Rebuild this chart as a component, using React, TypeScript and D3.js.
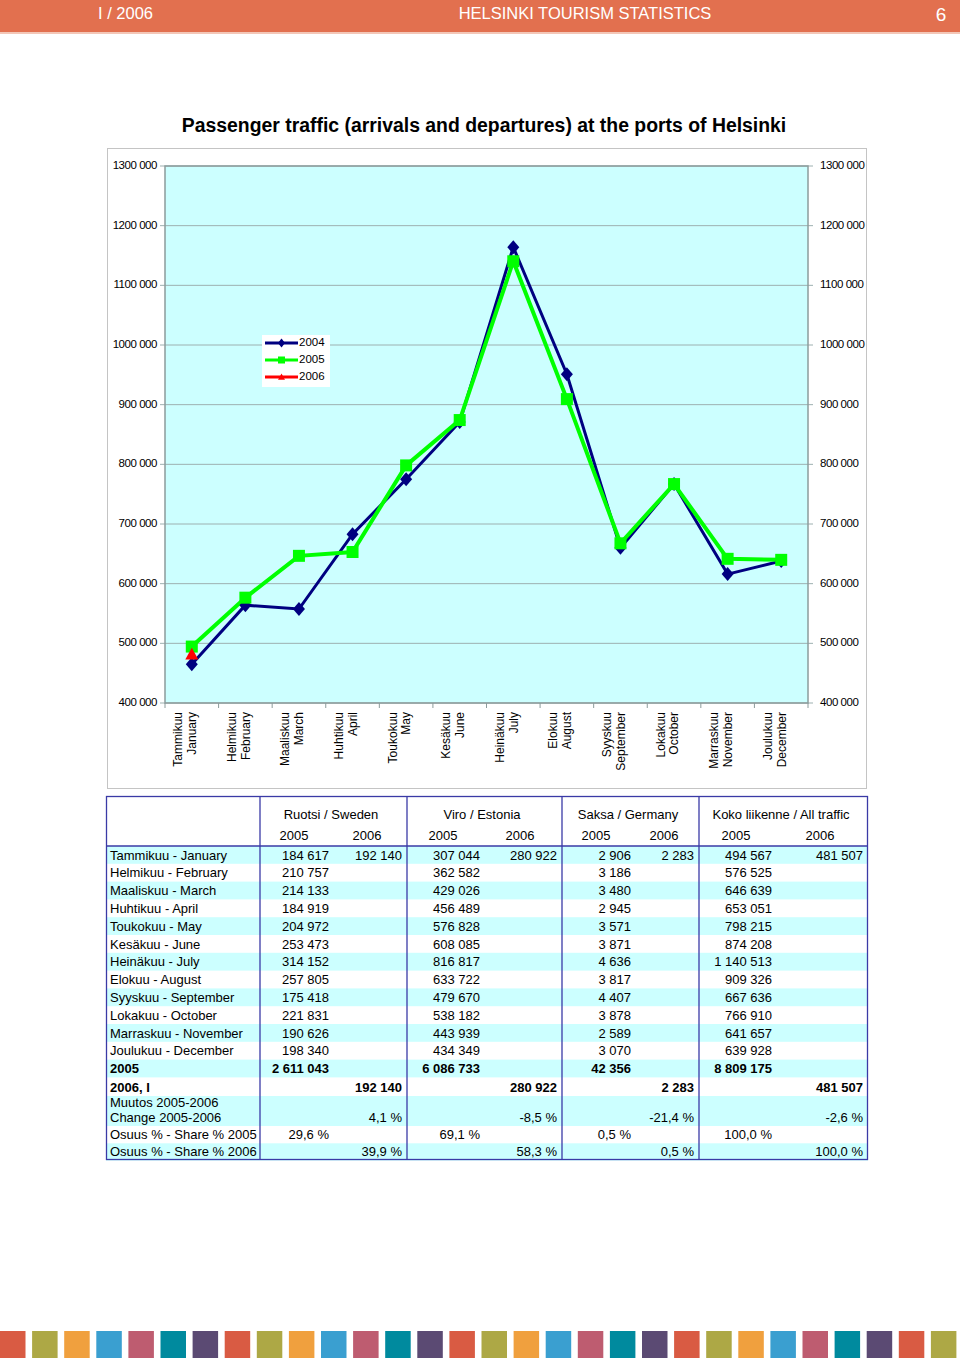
import React from "react";
import * as d3 from "d3";

const monthsFi = ["Tammikuu","Helmikuu","Maaliskuu","Huhtikuu","Toukokuu","Kesäkuu","Heinäkuu","Elokuu","Syyskuu","Lokakuu","Marraskuu","Joulukuu"];
const monthsEn = ["January","February","March","April","May","June","July","August","September","October","November","December"];
const yTicks = [400000,500000,600000,700000,800000,900000,1000000,1100000,1200000,1300000];

// Chart series (2004, 2005 from table)
const series2004 = [465000,564000,557500,683000,775000,871000,1164000,951000,660000,767000,616000,638000];
const series2005 = [494567,576525,646639,653051,798215,874208,1140513,909326,667636,766910,641657,639928];
const series2006 = [481507];

// Table values
const sweden2005 = [184617,210757,214133,184919,204972,253473,314152,257805,175418,221831,190626,198340];
const estonia2005 = [307044,362582,429026,456489,576828,608085,816817,633722,479670,538182,443939,434349];
const germany2005 = [2906,3186,3480,2945,3571,3871,4636,3817,4407,3878,2589,3070];
const all2005 = [494567,576525,646639,653051,798215,874208,1140513,909326,667636,766910,641657,639928];
const jan2006 = [192140,280922,2283,481507];
const totals2005 = [2611043,6086733,42356,8809175];
const change0506 = ["4,1 %","-8,5 %","-21,4 %","-2,6 %"];
const share2005 = ["29,6 %","69,1 %","0,5 %","100,0 %"];
const share2006 = ["39,9 %","58,3 %","0,5 %","100,0 %"];
const groups = ["Ruotsi / Sweden","Viro / Estonia","Saksa / Germany","Koko liikenne / All traffic"];
const stripColors = ["#D95B43","#ADA845","#F0A03E","#3A9FD0","#BE5C70","#008A9E","#5B4A73"];

const FONT = "'Liberation Sans', Arial, Helvetica, sans-serif";
const fmt = (v: number) => d3.format(",")(v).replace(/,/g, " ");
const fmtAxis = (v: number) => {
  const s = fmt(v);
  return s.replace(/^(\d+) (\d{3}) (\d{3})$/, "$1$2 $3");
};

const diamond = (cx: number, cy: number, r: number) => `M${cx},${cy - r - 1}L${cx + r},${cy}L${cx},${cy + r + 1}L${cx - r},${cy}Z`;
const square = (cx: number, cy: number, r: number) => `M${cx - r},${cy - r}h${2 * r}v${2 * r}h${-2 * r}Z`;
const triangle = (cx: number, cy: number, r: number) => `M${cx},${cy - r}L${cx + r},${cy + r * 0.8}L${cx - r},${cy + r * 0.8}Z`;

export default function App() {
  const plotL = 165, plotR = 808, plotT = 166, plotB = 703;
  const x = d3.scaleBand<string>().domain(monthsEn).range([plotL, plotR]);
  const y = d3.scaleLinear().domain([400000, 1300000]).range([plotB, plotT]);
  const cx = (i: number) => (x(monthsEn[i]) as number) + x.bandwidth() / 2;
  const line = d3.line<number>().x((_, i) => cx(i)).y((d) => y(d));

  // table geometry
  const tL = 106, tR = 868, tT = 796, tB = 1160;
  const divs = [260, 407, 562, 699];
  const rightEdges = [[329, 402], [480, 557], [631, 694], [772, 863]];
  const yearCenters = [[294, 367], [443, 520], [596, 664], [736, 820]];
  const groupCenters = [331, 482, 628, 781];
  const headBottom = 846;
  const rh = 17.8;

  type Row = { label: string[]; bold?: boolean; h: number; cells: (string | null)[] };
  const rows: Row[] = [];
  monthsFi.forEach((m, i) => {
    rows.push({
      label: [`${m} - ${monthsEn[i]}`], h: rh,
      cells: [fmt(sweden2005[i]), i === 0 ? fmt(jan2006[0]) : null, fmt(estonia2005[i]), i === 0 ? fmt(jan2006[1]) : null,
        fmt(germany2005[i]), i === 0 ? fmt(jan2006[2]) : null, fmt(all2005[i]), i === 0 ? fmt(jan2006[3]) : null],
    });
  });
  rows.push({ label: ["2005"], bold: true, h: rh, cells: totals2005.flatMap((v) => [fmt(v), null]) });
  rows.push({ label: ["2006, I"], bold: true, h: 18.6, cells: jan2006.flatMap((v) => [null, fmt(v)]) });
  rows.push({ label: ["Muutos 2005-2006", "Change 2005-2006"], h: 30, cells: change0506.flatMap((v) => [null, v]) });
  rows.push({ label: ["Osuus % - Share % 2005"], h: 17.3, cells: share2005.flatMap((v) => [v, null]) });
  rows.push({ label: ["Osuus % - Share % 2006"], h: 17.3, cells: share2006.flatMap((v) => [null, v]) });
  let acc = headBottom;
  const rowTops = rows.map((r) => { const t = acc; acc += r.h; return t; });

  return (
    <div style={{ position: "absolute", left: 0, top: 0 }}>
      <svg width={960} height={1358} style={{ display: "block", fontFamily: FONT }}>
        <rect width={960} height={1358} fill="#fff" />
        {/* header */}
        <rect x={0} y={0} width={960} height={32} fill="#E2704F" />
        <rect x={0} y={32} width={960} height={2} fill="#F3C7B8" />
        <text x={98} y={14.5} dominantBaseline="middle" fill="#fff" fontSize={16.5}>I / 2006</text>
        <text x={585} y={14.5} dominantBaseline="middle" textAnchor="middle" fill="#fff" fontSize={16.5}>HELSINKI TOURISM STATISTICS</text>
        <text x={941} y={16} dominantBaseline="middle" textAnchor="middle" fill="#fff" fontSize={19}>6</text>

        {/* title */}
        <text x={484} y={132} textAnchor="middle" fontSize={19.4} fontWeight="bold" fill="#000">Passenger traffic (arrivals and departures) at the ports of Helsinki</text>

        {/* chart frame */}
        <rect x={107.5} y={148.5} width={759} height={640} fill="#fff" stroke="#C4C4C4" />
        <rect x={plotL} y={plotT} width={plotR - plotL} height={plotB - plotT} fill="#CCFFFF" />
        {yTicks.map((t) => (
          <g key={t}>
            <line x1={plotL - 5} x2={plotR + 5} y1={y(t)} y2={y(t)} stroke="#9DB0B0" strokeWidth={1} />
            <text x={157} y={y(t)} textAnchor="end" dominantBaseline="middle" fontSize={11.5} letterSpacing={-0.45} fill="#000">{fmtAxis(t)}</text>
            <text x={820} y={y(t)} textAnchor="start" dominantBaseline="middle" fontSize={11.5} letterSpacing={-0.45} fill="#000">{fmtAxis(t)}</text>
          </g>
        ))}
        <rect x={plotL} y={plotT} width={plotR - plotL} height={plotB - plotT} fill="none" stroke="#8C9C9C" strokeWidth={1.5} />
        {monthsEn.map((m) => (
          <line key={m} x1={x(m) as number} x2={x(m) as number} y1={plotB} y2={plotB + 5} stroke="#8C9C9C" />
        ))}
        <line x1={plotR} x2={plotR} y1={plotB} y2={plotB + 5} stroke="#8C9C9C" />
        {monthsEn.map((m, i) => (
          <text key={m} transform={`translate(${cx(i) - 9.5},${712}) rotate(-90)`} textAnchor="end" fontSize={12} fill="#000">
            <tspan x={0} dy={0}>{monthsFi[i]}</tspan>
            <tspan x={0} dy={13.8}>{m}</tspan>
          </text>
        ))}

        {/* series */}
        <path d={line(series2004) as string} fill="none" stroke="#000080" strokeWidth={3} />
        <path d={line(series2005) as string} fill="none" stroke="#00FF00" strokeWidth={4} />
        {series2004.map((v, i) => <path key={`a${i}`} d={diamond(cx(i), y(v), 6)} fill="#000080" />)}
        {series2005.map((v, i) => <path key={`b${i}`} d={square(cx(i), y(v), 6)} fill="#00FF00" />)}
        {series2006.map((v, i) => <path key={`c${i}`} d={triangle(cx(i), y(v), 6.5)} fill="#FF0000" />)}

        {/* legend */}
        <rect x={262} y={335} width={68} height={52} fill="#fff" />
        {[
          { label: "2004", color: "#000080", shape: diamond },
          { label: "2005", color: "#00FF00", shape: square },
          { label: "2006", color: "#FF0000", shape: triangle },
        ].map((l, i) => {
          const ly = 343 + i * 17;
          return (
            <g key={l.label}>
              <line x1={265} x2={298} y1={ly} y2={ly} stroke={l.color} strokeWidth={3} />
              <path d={l.shape(281.5, ly, 3.5)} fill={l.color} />
              <text x={299} y={ly} dominantBaseline="middle" fontSize={11.5} fill="#000">{l.label}</text>
            </g>
          );
        })}

        {/* table */}
        {rows.map((r, i) => i % 2 === 0 ? (
          <rect key={`bg${i}`} x={tL} y={rowTops[i]} width={tR - tL} height={r.h} fill="#CCFFFF" />
        ) : null)}
        <rect x={tL + 0.5} y={tT + 0.5} width={tR - tL - 1} height={tB - tT - 1} fill="none" stroke="#3A3AA6" strokeWidth={1.3} />
        {divs.map((d) => <line key={d} x1={d} x2={d} y1={tT} y2={tB} stroke="#3A3AA6" strokeWidth={1.3} />)}
        <line x1={tL} x2={tR} y1={headBottom} y2={headBottom} stroke="#3A3AA6" strokeWidth={1.3} />
        {groups.map((g, gi) => (
          <g key={g}>
            <text x={groupCenters[gi]} y={816} textAnchor="middle" dominantBaseline="middle" fontSize={13} fill="#000">{g}</text>
            <text x={yearCenters[gi][0]} y={837} textAnchor="middle" dominantBaseline="middle" fontSize={13} fill="#000">2005</text>
            <text x={yearCenters[gi][1]} y={837} textAnchor="middle" dominantBaseline="middle" fontSize={13} fill="#000">2006</text>
          </g>
        ))}
        {rows.map((r, i) => {
          const top = rowTops[i];
          const baseY = top + r.h - 4.2;
          return (
            <g key={`r${i}`} fontWeight={r.bold ? "bold" : "normal"} fontSize={13} fill="#000">
              {r.label.map((lbl, li) => (
                <text key={li} x={110} y={baseY - (r.label.length - 1 - li) * 15}>{lbl}</text>
              ))}
              {r.cells.map((c, ci) => c === null ? null : (
                <text key={ci} x={rightEdges[Math.floor(ci / 2)][ci % 2]} y={baseY} textAnchor="end">{c}</text>
              ))}
            </g>
          );
        })}

        {/* bottom strip */}
        {d3.range(30).map((i) => (
          <rect key={`s${i}`} x={i * 32.1} y={1331} width={25.5} height={27} fill={stripColors[i % 7]} />
        ))}
      </svg>
    </div>
  );
}
